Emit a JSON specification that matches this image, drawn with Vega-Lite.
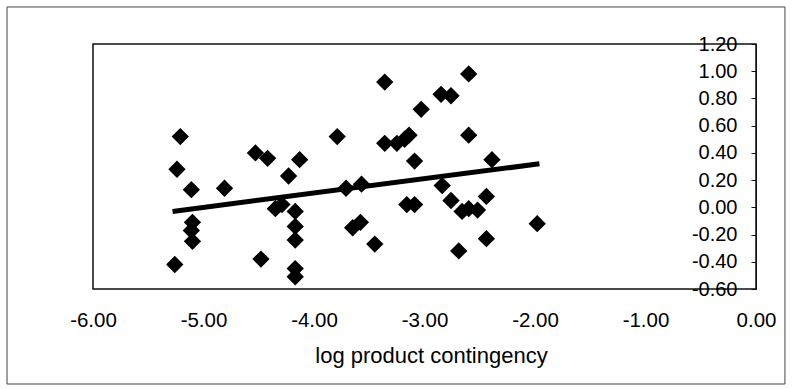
{
  "$schema": "https://vega.github.io/schema/vega-lite/v6.json",
  "autosize": "none",
  "width": 663,
  "height": 245,
  "padding": {"left": 93, "top": 44, "right": 38, "bottom": 100},
  "background": "white",
  "config": {
    "view": {"stroke": "#111", "strokeWidth": 1.5},
    "font": "Liberation Sans"
  },
  "datasets": {
    "pts": [
      {"x": -5.21, "y": 0.52}, {"x": -5.24, "y": 0.28}, {"x": -5.11, "y": 0.13}, {"x": -4.81, "y": 0.14},
      {"x": -4.53, "y": 0.40}, {"x": -4.42, "y": 0.36}, {"x": -4.13, "y": 0.35}, {"x": -4.23, "y": 0.23},
      {"x": -4.35, "y": -0.01}, {"x": -4.29, "y": 0.02}, {"x": -4.17, "y": -0.03}, {"x": -4.17, "y": -0.14},
      {"x": -4.17, "y": -0.24}, {"x": -4.17, "y": -0.45}, {"x": -4.17, "y": -0.51}, {"x": -5.10, "y": -0.11},
      {"x": -5.11, "y": -0.17}, {"x": -5.10, "y": -0.25}, {"x": -5.26, "y": -0.42}, {"x": -4.48, "y": -0.38},
      {"x": -3.79, "y": 0.52}, {"x": -3.36, "y": 0.92}, {"x": -2.60, "y": 0.98}, {"x": -2.85, "y": 0.83},
      {"x": -2.76, "y": 0.82}, {"x": -3.03, "y": 0.72}, {"x": -3.36, "y": 0.47}, {"x": -3.25, "y": 0.47},
      {"x": -3.18, "y": 0.50}, {"x": -3.14, "y": 0.53}, {"x": -2.60, "y": 0.53}, {"x": -3.09, "y": 0.34},
      {"x": -2.39, "y": 0.35}, {"x": -3.71, "y": 0.14}, {"x": -3.57, "y": 0.17}, {"x": -2.84, "y": 0.16},
      {"x": -3.16, "y": 0.02}, {"x": -3.09, "y": 0.02}, {"x": -2.76, "y": 0.05}, {"x": -2.44, "y": 0.08},
      {"x": -2.66, "y": -0.03}, {"x": -2.60, "y": -0.01}, {"x": -2.52, "y": -0.02}, {"x": -3.65, "y": -0.15},
      {"x": -3.58, "y": -0.11}, {"x": -3.45, "y": -0.27}, {"x": -2.69, "y": -0.32}, {"x": -2.44, "y": -0.23},
      {"x": -1.98, "y": -0.12}
    ],
    "trend": [
      {"x": -5.28, "y": -0.03},
      {"x": -1.96, "y": 0.32}
    ],
    "frame": [
      {"x": -6.778, "x2": 0.262, "y": 1.472, "y2": -1.298}
    ]
  },
  "encoding": {
    "x": {
      "field": "x", "type": "quantitative",
      "scale": {"domain": [-6, 0], "nice": false, "zero": false},
      "axis": {
        "values": [-6, -5, -4, -3, -2, -1, 0],
        "labelExpr": "replace(format(datum.value, '.2f'), '\u2212', '-')",
        "title": "log product contingency",
        "grid": false, "ticks": false, "domain": false,
        "labelFont": "Liberation Sans", "labelFontSize": 20.5, "labelColor": "#000",
        "labelBaseline": "alphabetic", "labelPadding": 37,
        "labelFlush": false, "labelOverlap": false, "labelBound": false,
        "titleFont": "Liberation Sans", "titleFontSize": 22, "titleFontWeight": "normal", "titleColor": "#000",
        "titleBaseline": "alphabetic", "titleY": 73, "titleX": 338
      }
    },
    "y": {
      "field": "y", "type": "quantitative",
      "scale": {"domain": [-0.6, 1.2], "nice": false, "zero": false},
      "axis": {
        "orient": "left", "offset": -663,
        "values": [-0.6, -0.4, -0.2, 0, 0.2, 0.4, 0.6, 0.8, 1.0, 1.2],
        "labelExpr": "replace(format(datum.value, '.2f'), '\u2212', '-')",
        "title": null,
        "grid": false, "domain": true, "domainColor": "#111",
        "ticks": true, "tickSize": 5, "tickColor": "#111",
        "labelFont": "Liberation Sans", "labelFontSize": 20, "labelColor": "#000",
        "labelPadding": 14, "labelAlign": "right", "labelBaseline": "middle",
        "labelFlush": false, "labelOverlap": false, "labelBound": false
      }
    }
  },
  "layer": [
    {
      "data": {"name": "frame"},
      "mark": {"type": "rect", "fill": null, "stroke": "#444", "strokeWidth": 1, "clip": false},
      "encoding": {
        "x2": {"field": "x2"},
        "y2": {"field": "y2"}
      }
    },
    {
      "data": {"name": "pts"},
      "mark": {"type": "point", "shape": "diamond", "filled": true, "color": "#000", "opacity": 1, "size": 300}
    },
    {
      "data": {"name": "trend"},
      "mark": {"type": "line", "color": "#000", "strokeWidth": 5}
    }
  ]
}
